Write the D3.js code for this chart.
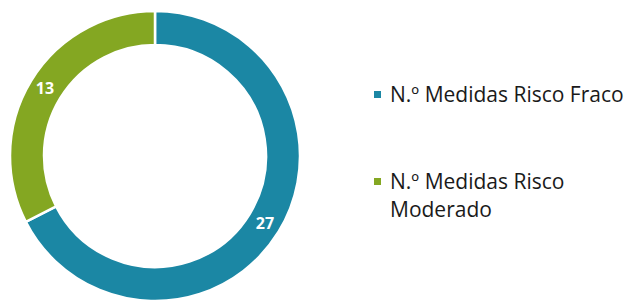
<!DOCTYPE html>
<html>
<head>
<meta charset="utf-8">
<script src="https://cdn.jsdelivr.net/npm/d3@7"></script>
<style>
  body { margin: 0; background: #fff; }
  svg { display: block; }
</style>
</head>
<body>
<svg id="chart" width="628" height="301"></svg>
<script>
const categories = ['N.º Medidas Risco Fraco', 'N.º Medidas Risco Moderado'];
const values = [27, 13];
const colors = ['#1b87a4', '#84a722'];
const legendLines = [['N.º Medidas Risco Fraco'], ['N.º Medidas Risco', 'Moderado']];

const svg = d3.select('#chart');
const cx = 155, cy = 156;
const rOuter = 145, rInner = 111;

const pie = d3.pie().sort(null).value(d => d);
const arc = d3.arc().outerRadius(rOuter).innerRadius(rInner);
const labelArc = d3.arc().outerRadius(129).innerRadius(129);

const group = svg.append('g').attr('transform', `translate(${cx},${cy})`);
const slices = pie(values);

group.selectAll('path').data(slices).enter().append('path')
  .attr('d', arc)
  .attr('fill', (d, i) => colors[i])
  .attr('stroke', '#fff')
  .attr('stroke-width', 2.5);

group.selectAll('text.val').data(slices).enter().append('text')
  .attr('class', 'val')
  .attr('transform', d => `translate(${labelArc.centroid(d)})`)
  .attr('text-anchor', 'middle')
  .attr('dy', '0.36em')
  .attr('fill', '#fff')
  .style('font', 'bold 16px "Open Sans", sans-serif')
  .text(d => d.data);

// legend
const legend = svg.append('g');
const legendY = [102, 189];
legendLines.forEach((lines, i) => {
  const g = legend.append('g');
  g.append('rect')
    .attr('x', 374).attr('y', legendY[i] - 11)
    .attr('width', 7).attr('height', 7)
    .attr('fill', colors[i]);
  const t = g.append('text')
    .attr('x', 390).attr('y', legendY[i])
    .attr('fill', '#1a1a1a')
    .style('font', '500 21px "Open Sans", sans-serif');
  lines.forEach((l, j) => {
    t.append('tspan').attr('x', 390).attr('dy', j === 0 ? 0 : 28).text(l);
  });
});
</script>
</body>
</html>
